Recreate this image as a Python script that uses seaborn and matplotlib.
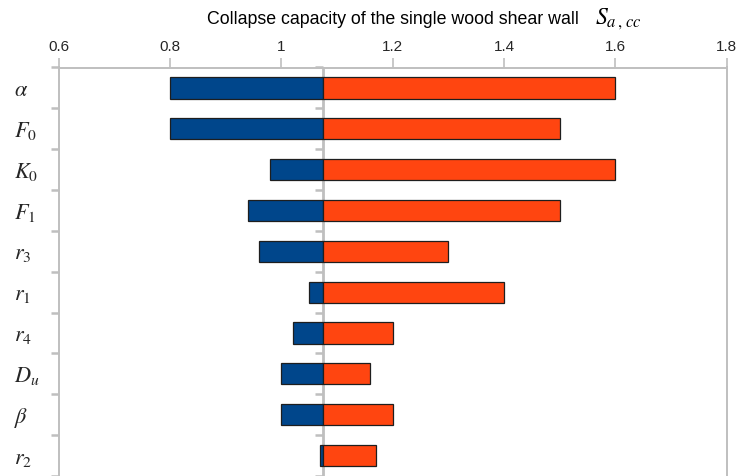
import numpy as np
import pandas as pd
import matplotlib
matplotlib.use("Agg")
import matplotlib.pyplot as plt
import seaborn as sns

# Tornado data: collapse capacity S_a,cc when each parameter is set low / high
params = [r"$\alpha$", r"$F_0$", r"$K_0$", r"$F_1$", r"$r_3$",
          r"$r_1$", r"$r_4$", r"$D_u$", r"$\beta$", r"$r_2$"]
low_values = [0.80, 0.80, 0.98, 0.94, 0.96, 1.05, 1.02, 1.00, 1.00, 1.07]
high_values = [1.60, 1.50, 1.60, 1.50, 1.30, 1.40, 1.20, 1.16, 1.20, 1.17]
base_value = 1.074
x_ticks = [0.6, 0.8, 1.0, 1.2, 1.4, 1.6, 1.8]
x_tick_labels = ["0.6", "0.8", "1", "1.2", "1.4", "1.6", "1.8"]

sns.set_style("white")
plt.rcParams["font.family"] = ["Liberation Sans", "DejaVu Sans"]
plt.rcParams["mathtext.fontset"] = "stix"

BLUE = "#00468b"
ORANGE = "#ff4510"
EDGE = "#1e1e1e"
GRAY = "#bfbfbf"

df = pd.DataFrame({
    "param": params,
    "low_delta": np.array(low_values) - base_value,
    "high_delta": np.array(high_values) - base_value,
})

fig = plt.figure(figsize=(7.39, 4.76), dpi=100)
ax = fig.add_axes([58.7 / 739, 0.0, (726.7 - 58.7) / 739, (476 - 67.5) / 476])

# vertical reference line at the base value with category ticks on its left
n = len(params)
bounds = np.arange(-0.5, n, 1.0)
ax.axvline(base_value, color=GRAY, lw=2.0, zorder=0.5)
ax.plot([base_value] * len(bounds), bounds, linestyle="none", marker=0,
        markersize=5.5, mew=1.8, color=GRAY, zorder=0.5, clip_on=False)

common = dict(data=df, y="param", orient="y", left=base_value, width=0.52,
              saturation=1, errorbar=None, edgecolor=EDGE, linewidth=0.9,
              ax=ax, zorder=2)
sns.barplot(x="low_delta", color=BLUE, **common)
sns.barplot(x="high_delta", color=ORANGE, **common)

ax.set_xlim(0.6, 1.8)
ax.set_ylim(n - 0.5, -0.5)
ax.set_xlabel("")
ax.set_ylabel("")

# x axis on top
ax.xaxis.tick_top()
ax.set_xticks(x_ticks)
ax.set_xticklabels(x_tick_labels)
ax.tick_params(axis="x", which="major", direction="out", length=7, width=1.2,
               color=GRAY, labelsize=11, labelcolor="#262626", pad=3,
               top=True, bottom=False)

# y axis: labels at category centres, ticks at category boundaries
ax.set_yticks(bounds, minor=True)
ax.tick_params(axis="y", which="major", left=True, length=0, pad=32.5,
               labelsize=16)
ax.tick_params(axis="y", which="minor", left=True, direction="out", length=6,
               width=1.8, color=GRAY)
for lab in ax.get_yticklabels():
    lab.set_horizontalalignment("left")

for side in ("left", "right", "top"):
    ax.spines[side].set_visible(True)
    ax.spines[side].set_color(GRAY)
    ax.spines[side].set_linewidth(1.4)
ax.spines["bottom"].set_visible(False)
ax.grid(False)

fig.text(207 / 739, 1 - 24 / 476, "Collapse capacity of the single wood shear wall",
         fontsize=12.8, color="black", ha="left", va="baseline")
fig.text(595 / 739, 1 - 24.5 / 476, r"$S_{a\,,\,cc}$",
         fontsize=17, color="black", ha="left", va="baseline")

fig.savefig("out.png", dpi=100)
